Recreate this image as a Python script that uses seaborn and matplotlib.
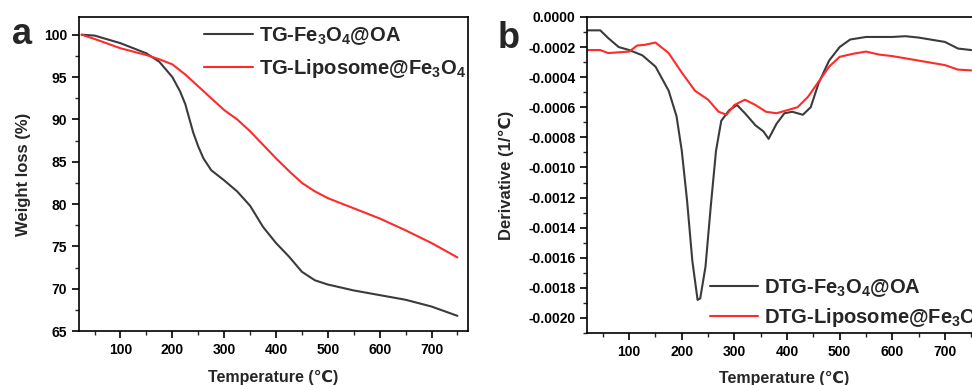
import numpy as np
import pandas as pd
import matplotlib
matplotlib.use("Agg")
import matplotlib.pyplot as plt
from matplotlib.ticker import MultipleLocator, FormatStrFormatter
import seaborn as sns

sns.set_theme(style="ticks")
plt.rcParams['font.family'] = ['Liberation Sans', 'DejaVu Sans']
plt.rcParams['font.weight'] = 'bold'
plt.rcParams['axes.labelweight'] = 'bold'
plt.rcParams['mathtext.fontset'] = 'custom'
plt.rcParams['mathtext.rm'] = 'Liberation Sans:bold'
plt.rcParams['mathtext.it'] = 'Liberation Sans:bold'
plt.rcParams['mathtext.bf'] = 'Liberation Sans:bold'

# panel a: TG curves
tg_temp = [25, 50, 100, 150, 175, 200, 215, 225, 240, 250, 260, 275, 300, 325, 350,
           375, 400, 425, 450, 475, 500, 550, 600, 650, 700, 750]
tg_oa = [100.0, 99.9, 99.0, 97.8, 96.8, 95.0, 93.3, 91.8, 88.5, 86.8, 85.4, 84.0,
         82.8, 81.5, 79.8, 77.3, 75.4, 73.8, 72.0, 71.0, 70.5, 69.8, 69.25, 68.7,
         67.9, 66.8]
tg_temp_lip = [25, 50, 100, 150, 175, 200, 225, 250, 275, 300, 325, 350, 375, 400,
               425, 450, 475, 500, 550, 600, 650, 700, 750]
tg_lip = [100.0, 99.5, 98.4, 97.6, 97.1, 96.5, 95.3, 93.9, 92.5, 91.1, 90.0, 88.6,
          87.0, 85.4, 83.9, 82.5, 81.5, 80.7, 79.5, 78.3, 76.9, 75.4, 73.7]

# panel b: DTG curves (1e-4 per degC)
dtg_temp_oa = [20, 45, 60, 80, 100, 125, 150, 175, 190, 200, 210, 220, 230, 235, 245,
               255, 265, 275, 290, 305, 320, 340, 355, 365, 380, 395, 410, 430, 445,
               460, 480, 500, 520, 550, 600, 625, 650, 700, 725, 750]
dtg_oa = [-0.89, -0.89, -1.4, -2.0, -2.2, -2.55, -3.3, -4.9, -6.6, -8.9, -12.2, -16.2,
          -18.8, -18.7, -16.6, -12.6, -8.9, -6.9, -6.2, -5.85, -6.4, -7.2, -7.6, -8.1,
          -7.1, -6.4, -6.3, -6.5, -6.0, -4.4, -2.9, -2.0, -1.5, -1.33, -1.33, -1.28,
          -1.37, -1.66, -2.1, -2.2]
dtg_temp_lip = [20, 45, 60, 100, 115, 130, 150, 175, 200, 225, 250, 270, 285, 300, 320,
                340, 360, 380, 400, 420, 440, 460, 480, 500, 525, 550, 575, 600, 650,
                700, 725, 750]
dtg_lip = [-2.2, -2.2, -2.4, -2.3, -1.9, -1.85, -1.7, -2.4, -3.7, -4.9, -5.5, -6.3,
           -6.5, -5.85, -5.5, -5.85, -6.3, -6.4, -6.2, -6.0, -5.3, -4.3, -3.3, -2.65,
           -2.45, -2.3, -2.5, -2.6, -2.9, -3.2, -3.5, -3.55]

label_oa_a = r'TG-Fe$_3$O$_4$@OA'
label_lip_a = r'TG-Liposome@Fe$_3$O$_4$'
label_oa_b = r'DTG-Fe$_3$O$_4$@OA'
label_lip_b = r'DTG-Liposome@Fe$_3$O$_4$'

black = '#3b3b3b'
red = '#ff2a2a'

fig = plt.figure(figsize=(9.72, 3.85), dpi=100)
ax1 = fig.add_axes([0.0813, 0.140, 0.400, 0.816])
ax2 = fig.add_axes([0.604, 0.135, 0.406, 0.821])

sns.lineplot(x=tg_temp, y=tg_oa, ax=ax1, color=black, lw=1.5, label=label_oa_a)
sns.lineplot(x=tg_temp_lip, y=tg_lip, ax=ax1, color=red, lw=1.5, label=label_lip_a)

sns.lineplot(x=dtg_temp_oa, y=np.array(dtg_oa) * 1e-4, ax=ax2, color=black, lw=1.5,
             label=label_oa_b)
sns.lineplot(x=dtg_temp_lip, y=np.array(dtg_lip) * 1e-4, ax=ax2, color=red, lw=1.5,
             label=label_lip_b)

for ax in (ax1, ax2):
    ax.set_xlim(20, 770)
    ax.xaxis.set_major_locator(MultipleLocator(100))
    ax.xaxis.set_minor_locator(MultipleLocator(50))
    ax.tick_params(which='major', direction='out', length=5, width=1.2,
                   labelsize=10, colors='black')
    ax.tick_params(which='minor', direction='out', length=3, width=1.0)
    ax.tick_params(top=False, right=False)
    for s in ax.spines.values():
        s.set_linewidth(1.2)
        s.set_color('black')
    for t in ax.get_xticklabels() + ax.get_yticklabels():
        t.set_fontweight('bold')
    ax.set_xlabel('Temperature (\u2103)', fontsize=11.5, fontweight='bold', labelpad=9)

ax1.set_ylim(65, 102.1)
ax1.yaxis.set_major_locator(MultipleLocator(5))
ax1.yaxis.set_minor_locator(MultipleLocator(2.5))
ax1.set_ylabel('Weight loss (%)', fontsize=12, fontweight='bold', labelpad=9)

ax2.set_ylim(-0.0021, 0.0)
ax2.yaxis.set_major_locator(MultipleLocator(0.0002))
ax2.yaxis.set_minor_locator(MultipleLocator(0.0001))
ax2.yaxis.set_major_formatter(FormatStrFormatter('%.4f'))
ax2.set_ylabel('Derivative (1/\u2103)', fontsize=12, fontweight='bold', labelpad=10)
for t in ax2.get_yticklabels():
    t.set_fontweight('bold')

ax1.legend(loc='upper left', bbox_to_anchor=(0.202, 0.955), bbox_transform=fig.transFigure,
           frameon=False, fontsize=14.5, handlelength=2.4, handletextpad=0.3,
           labelspacing=0.5, borderaxespad=0)
ax2.legend(loc='upper left', bbox_to_anchor=(0.722, 0.30), bbox_transform=fig.transFigure,
           frameon=False, fontsize=14.5, handlelength=2.4, handletextpad=0.3,
           labelspacing=0.35, borderaxespad=0)

fig.text(0.012, 0.955, 'a', fontsize=26, fontweight='bold', va='top')
fig.text(0.512, 0.945, 'b', fontsize=26, fontweight='bold', va='top')

fig.savefig('out.png', dpi=100)
